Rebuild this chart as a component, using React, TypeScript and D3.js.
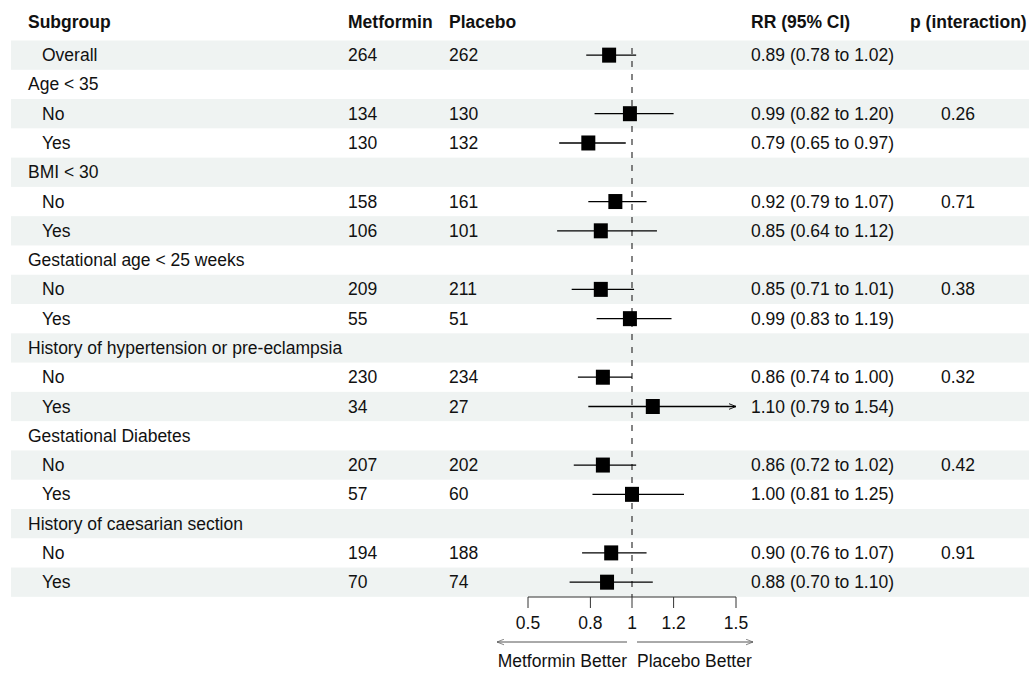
import React from "react";
import * as d3 from "d3";

const labels = [
  "Overall", "Age < 35", "No", "Yes", "BMI < 30", "No", "Yes",
  "Gestational age < 25 weeks", "No", "Yes",
  "History of hypertension or pre-eclampsia", "No", "Yes",
  "Gestational Diabetes", "No", "Yes",
  "History of caesarian section", "No", "Yes",
];
const indented = [true, false, true, true, false, true, true, false, true, true, false, true, true, false, true, true, false, true, true];
const metformin = ["264", "", "134", "130", "", "158", "106", "", "209", "55", "", "230", "34", "", "207", "57", "", "194", "70"];
const placebo = ["262", "", "130", "132", "", "161", "101", "", "211", "51", "", "234", "27", "", "202", "60", "", "188", "74"];
const est: (number | null)[] = [0.89, null, 0.99, 0.79, null, 0.92, 0.85, null, 0.85, 0.99, null, 0.86, 1.10, null, 0.86, 1.00, null, 0.90, 0.88];
const lower: (number | null)[] = [0.78, null, 0.82, 0.65, null, 0.79, 0.64, null, 0.71, 0.83, null, 0.74, 0.79, null, 0.72, 0.81, null, 0.76, 0.70];
const upper: (number | null)[] = [1.02, null, 1.20, 0.97, null, 1.07, 1.12, null, 1.01, 1.19, null, 1.00, 1.54, null, 1.02, 1.25, null, 1.07, 1.10];
const pInter = ["", "", "0.26", "", "", "0.71", "", "", "0.38", "", "", "0.32", "", "", "0.42", "", "", "0.91", ""];
const xTicks = [0.5, 0.8, 1, 1.2, 1.5];
const xTickLabels = ["0.5", "0.8", "1", "1.2", "1.5"];
const headers = ["Subgroup", "Metformin", "Placebo", "RR (95% CI)", "p (interaction)"];

const fmt = (v: number) => v.toFixed(2);

export default function App() {
  const W = 1029, H = 673;
  const x = d3.scaleLinear().domain([0.5, 1.5]).range([528, 736]);
  const rowTop0 = 40.5, rowH = 29.28;
  const y = d3.scaleLinear().domain([0, 1]).range([rowTop0 + rowH / 2, rowTop0 + rowH * 1.5]);
  const font = "'Liberation Sans', Arial, sans-serif";
  const fs = 17.5;
  const axisY = 597;
  const colX = { sub: 28, subIndent: 42, met: 348, pla: 449, rr: 751, p: 910, pv: 941 };
  const box = 14;
  const xmin = 0.5, xmax = 1.5;

  return (
    <svg width={W} height={H} style={{ position: "absolute", left: 0, top: 0 }} fontFamily={font} fontSize={fs}>
      <defs>
        <marker id="arr" viewBox="0 0 10 10" refX="10" refY="5" markerWidth="7" markerHeight="7" orient="auto-start-reverse" markerUnits="userSpaceOnUse">
          <path d="M0,1 L10,5 L0,9" fill="none" stroke="#000" strokeWidth={1.3} />
        </marker>
        <marker id="arrG" viewBox="0 0 10 10" refX="10" refY="5" markerWidth="7" markerHeight="7" orient="auto-start-reverse" markerUnits="userSpaceOnUse">
          <path d="M0,1 L10,5 L0,9" fill="none" stroke="#555" strokeWidth={1} />
        </marker>
      </defs>
      <rect x={0} y={0} width={W} height={H} fill="#fff" />
      {labels.map((_, i) =>
        i % 2 === 0 ? (
          <rect key={"bg" + i} x={11} y={y(i) - rowH / 2} width={W - 11} height={rowH} fill="#eff3f2" />
        ) : null
      )}
      <g fontWeight="bold" dominantBaseline="central" fill="#111">
        <text x={colX.sub} y={22}>{headers[0]}</text>
        <text x={colX.met} y={22}>{headers[1]}</text>
        <text x={colX.pla} y={22}>{headers[2]}</text>
        <text x={colX.rr} y={22}>{headers[3]}</text>
        <text x={colX.p} y={22}>{headers[4]}</text>
      </g>
      <g dominantBaseline="central" fill="#111">
        {labels.map((l, i) => (
          <g key={"t" + i}>
            <text x={indented[i] ? colX.subIndent : colX.sub} y={y(i)}>{l}</text>
            <text x={colX.met} y={y(i)}>{metformin[i]}</text>
            <text x={colX.pla} y={y(i)}>{placebo[i]}</text>
            {est[i] !== null ? (
              <text x={colX.rr} y={y(i)}>{`${fmt(est[i] as number)} (${fmt(lower[i] as number)} to ${fmt(upper[i] as number)})`}</text>
            ) : null}
            <text x={colX.pv} y={y(i)}>{pInter[i]}</text>
          </g>
        ))}
      </g>
      <line x1={x(1)} x2={x(1)} y1={48} y2={axisY} stroke="#333" strokeWidth={1.2} strokeDasharray="6,7" />
      {est.map((e, i) => {
        if (e === null) return null;
        const lo = Math.max(lower[i] as number, xmin);
        const hiRaw = upper[i] as number;
        const hi = Math.min(hiRaw, xmax);
        return (
          <g key={"ci" + i}>
            <line x1={x(lo)} x2={x(hi)} y1={y(i)} y2={y(i)} stroke="#000" strokeWidth={1.3}
              markerEnd={hiRaw > xmax ? "url(#arr)" : undefined} />
            <rect x={x(e) - box / 2} y={y(i) - box / 2 - 0.5} width={box} height={box + 1} fill="#000" />
          </g>
        );
      })}
      <g stroke="#333" strokeWidth={1}>
        <line x1={x(xmin)} x2={x(xmax)} y1={axisY} y2={axisY} />
        {xTicks.map((t) => (
          <line key={"tk" + t} x1={x(t)} x2={x(t)} y1={axisY} y2={axisY + 11} />
        ))}
      </g>
      <g textAnchor="middle" dominantBaseline="central" fill="#111">
        {xTicks.map((t, i) => (
          <text key={"tl" + t} x={x(t)} y={623}>{xTickLabels[i]}</text>
        ))}
      </g>
      <line x1={x(1) - 5} x2={x(xmin) - 31} y1={642} y2={642} stroke="#555" strokeWidth={1} markerEnd="url(#arrG)" />
      <line x1={x(1) + 5} x2={x(xmax) + 17} y1={642} y2={642} stroke="#555" strokeWidth={1} markerEnd="url(#arrG)" />
      <g dominantBaseline="central" fill="#111">
        <text x={x(1) - 5} y={661} textAnchor="end">Metformin Better</text>
        <text x={x(1) + 5} y={661} textAnchor="start">Placebo Better</text>
      </g>
    </svg>
  );
}
